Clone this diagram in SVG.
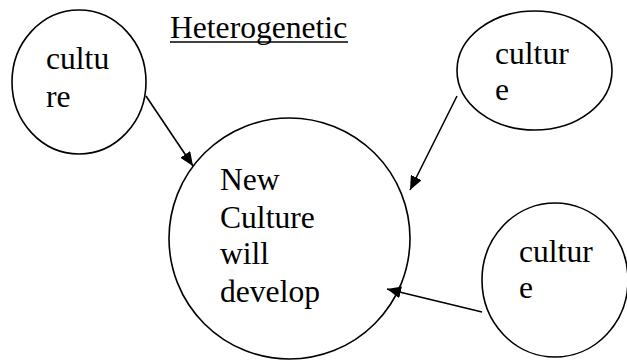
<svg xmlns="http://www.w3.org/2000/svg" width="627" height="360" viewBox="0 0 627 360">
<style>
.n{fill:#fff;stroke:#000;stroke-width:1.6}
.t{font-family:"Liberation Serif",serif;font-size:31.6px;fill:#000}
.c{stroke:#000;stroke-width:1.6;fill:none}
</style>
<defs>
<marker id="ah" markerWidth="14" markerHeight="12" refX="14" refY="6" orient="auto" markerUnits="userSpaceOnUse">
<path d="M0,0 L14,6 L0,12 Z" fill="#000"/>
</marker>
</defs>
<rect width="627" height="360" fill="#fff"/>
<g id="title">
<text class="t" x="170" y="38">Heterogenetic</text>
<line x1="170" y1="42" x2="348" y2="42" stroke="#000" stroke-width="1.6"/>
</g>
<g id="node-culture1">
<ellipse class="n" cx="79" cy="82" rx="67" ry="72"/>
<text class="t" x="46" y="69">cultu</text>
<text class="t" x="46" y="107">re</text>
</g>
<g id="node-culture2">
<ellipse class="n" cx="534.5" cy="70.5" rx="77.5" ry="59.5"/>
<text class="t" x="495" y="64">cultur</text>
<text class="t" x="495" y="100">e</text>
</g>
<g id="node-new">
<ellipse class="n" cx="289.5" cy="238.5" rx="120.5" ry="120.5"/>
<text class="t" x="220" y="190">New</text>
<text class="t" x="220" y="228">Culture</text>
<text class="t" x="220" y="264">will</text>
<text class="t" x="220" y="302">develop</text>
</g>
<g id="node-culture3">
<ellipse class="n" cx="555" cy="280" rx="73" ry="77"/>
<text class="t" x="519" y="262">cultur</text>
<text class="t" x="519" y="298">e</text>
</g>
<g id="connectors">
<line class="c" x1="146" y1="96" x2="193" y2="166" marker-end="url(#ah)"/>
<line class="c" x1="457" y1="96" x2="410" y2="190" marker-end="url(#ah)"/>
<line class="c" x1="482" y1="312" x2="387" y2="289" marker-end="url(#ah)"/>
</g>
</svg>
